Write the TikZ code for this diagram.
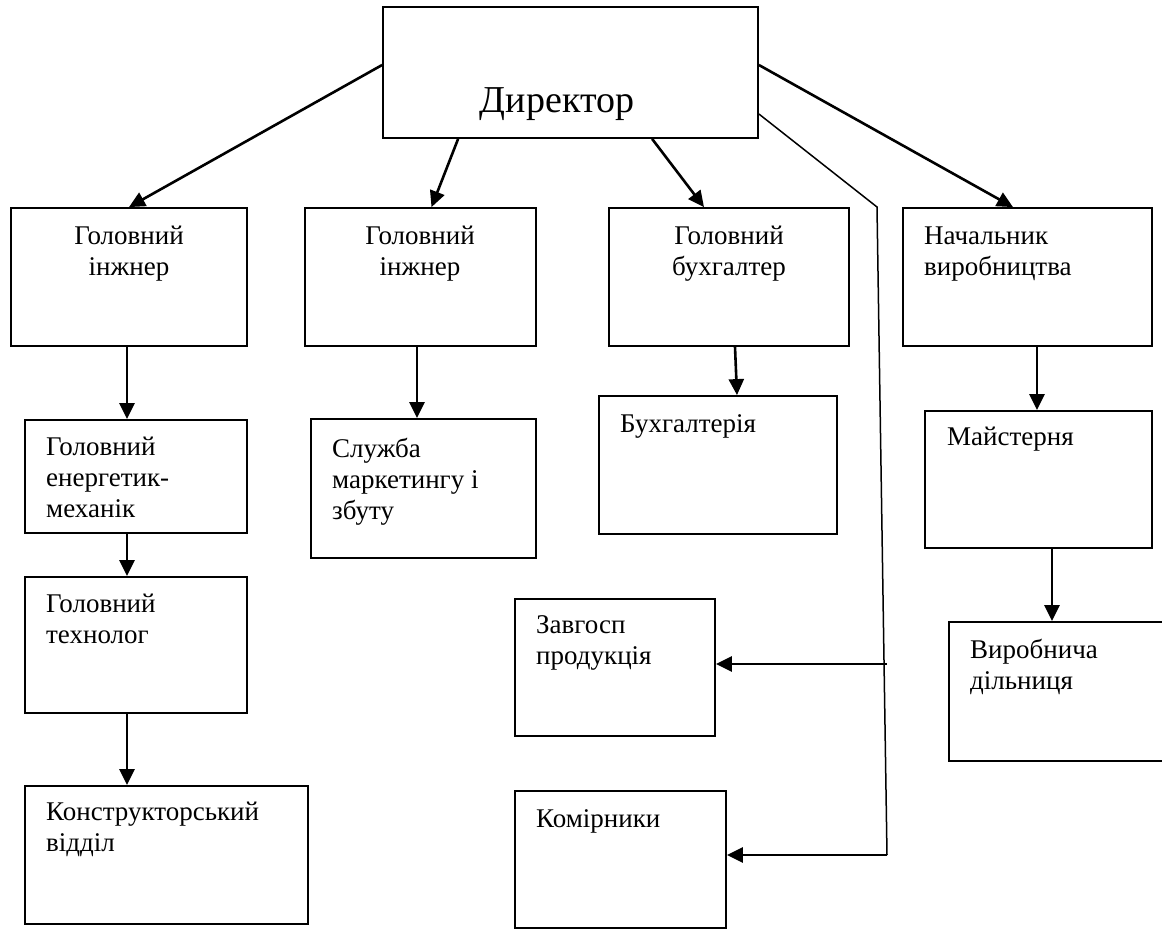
\documentclass[tikz,border=0pt]{standalone}
\usepackage{fontspec}
\setmainfont{Liberation Serif}
\usetikzlibrary{arrows.meta}
\newcommand{\linesL}[1]{\begin{tabular}[t]{@{}l@{}}#1\end{tabular}}
\newcommand{\linesC}[1]{\begin{tabular}[t]{@{}c@{}}#1\end{tabular}}
\tikzset{
  box/.style={draw, line width=1.8pt, inner sep=0pt, fill=none},
  lbl/.style={inner sep=0pt, font=\fontsize{27}{31}\selectfont},
  lblc/.style={lbl, anchor=base},
  lbll/.style={lbl, anchor=base west},
  conn/.style={line width=2.6pt, -{Triangle[length=16pt,width=15pt]}},
  thin/.style={line width=1.5pt}
}
\begin{document}
\begin{tikzpicture}[x=1pt,y=-1pt]
\clip (0,0) rectangle (1162,929);
\useasboundingbox (0,0) rectangle (1162,929);
\fill[white] (0,0) rectangle (1162,929);
% boxes
\node[box, minimum width=375pt, minimum height=131pt] (dir) at (570.5,72.5) {};
\node[box, minimum width=236pt, minimum height=138pt] (b1) at (129,277) {};
\node[box, minimum width=231pt, minimum height=138pt] (b2) at (420.5,277) {};
\node[box, minimum width=240pt, minimum height=138pt] (b3) at (729,277) {};
\node[box, minimum width=249pt, minimum height=138pt] (b4) at (1027.5,277) {};
\node[box, minimum width=222pt, minimum height=113pt] (e1) at (136,476.5) {};
\node[box, minimum width=222pt, minimum height=136pt] (e2) at (136,645) {};
\node[box, minimum width=283pt, minimum height=138pt] (e3) at (166.5,855) {};
\node[box, minimum width=225pt, minimum height=139pt] (s) at (423.5,488.5) {};
\node[box, minimum width=238pt, minimum height=138pt] (bk) at (718,465) {};
\node[box, minimum width=200pt, minimum height=137pt] (z) at (615,667.5) {};
\node[box, minimum width=211pt, minimum height=137pt] (k) at (620.5,859.5) {};
\node[box, minimum width=227pt, minimum height=137pt] (m) at (1038.5,479.5) {};
\node[box, minimum width=251pt, minimum height=139pt] (v) at (1074.5,691.5) {};
% texts
\node[inner sep=0pt, anchor=base, font=\fontsize{38}{44}\selectfont] (tdir) at (557,112) {Директор};
\node[lblc] (tb1) at (129,244) {\linesC{Головний\\інжнер}};
\node[lblc] (tb2) at (420,244) {\linesC{Головний\\інжнер}};
\node[lblc] (tb3) at (729,244) {\linesC{Головний\\бухгалтер}};
\node[lbll] (tb4) at (924,244) {\linesL{Начальник\\виробництва}};
\node[lbll] (te1) at (46,455) {\linesL{Головний\\енергетик-\\механік}};
\node[lbll] (te2) at (46,612) {\linesL{Головний\\технолог}};
\node[lbll] (te3) at (46,820) {\linesL{Конструкторський\\відділ}};
\node[lbll] (ts) at (332,457) {\linesL{Служба\\маркетингу і\\збуту}};
\node[lbll] (tbk) at (620,432) {Бухгалтерія};
\node[lbll] (tz) at (536,633) {\linesL{Завгосп\\продукція}};
\node[lbll] (tk) at (536,827) {Комірники};
\node[lbll] (tm) at (947,445) {Майстерня};
\node[lbll] (tv) at (970,658) {\linesL{Виробнича\\дільниця}};
% connectors from director
\draw[conn] ([yshift=7.5pt]dir.west) -- (b1.north);
\draw[conn] ([xshift=76pt]dir.south west) -- ([xshift=11pt]b2.north);
\draw[conn] ([xshift=270pt]dir.south west) -- ([xshift=-25pt]b3.north);
\draw[conn] ([yshift=7.5pt]dir.east) -- ([xshift=-14.5pt]b4.north);
% vertical chains
\draw[conn] ([xshift=-2pt]b1.south) -- ([xshift=-2pt]b1.south |- e1.north);
\draw[conn] ([xshift=-2pt]b1.south |- e1.south) -- ([xshift=-2pt]b1.south |- e2.north);
\draw[conn] ([xshift=-2pt]b1.south |- e2.south) -- ([xshift=-2pt]b1.south |- e3.north);
\draw[conn] ([xshift=-3.5pt]b2.south) -- ([xshift=-3.5pt]b2.south |- s.north);
\draw[conn] ([xshift=6pt]b3.south) -- ([xshift=19pt]bk.north);
\draw[conn] ([xshift=-1.5pt]m.north |- b4.south) -- ([xshift=-1.5pt]m.north);
\draw[conn] ([xshift=13.5pt]m.south) -- ([xshift=13.5pt]m.south |- v.north);
% thin line to storage staff
\coordinate (c1) at (877,207);
\coordinate (c2) at (887,855);
\coordinate (c3) at (887,664);
\draw[thin, line join=miter] ([yshift=-41.5pt]dir.east) -- (c1) -- (c2);
\draw[conn] (c2) -- (c2 -| k.east);
\draw[conn] (c3) -- (c3 -| z.east);
\end{tikzpicture}
\end{document}
